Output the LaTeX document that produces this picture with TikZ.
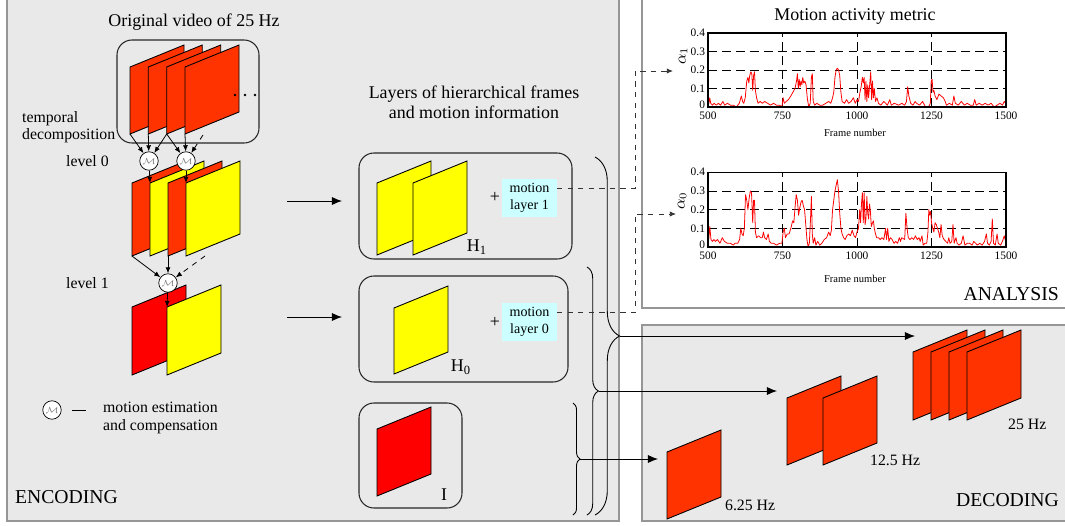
\documentclass[tikz,border=0pt]{standalone}
\usepackage{fontspec}
\setmainfont{Liberation Serif}
\usetikzlibrary{arrows.meta,decorations.pathreplacing}

\definecolor{frameorange}{RGB}{255,51,0}
\definecolor{frameyellow}{RGB}{255,255,0}
\definecolor{framered}{RGB}{255,0,0}
\definecolor{panelgray}{RGB}{233,233,233}
\definecolor{panelline}{RGB}{150,150,150}
\definecolor{motioncyan}{RGB}{204,255,255}

% one frame: #2,#3 bottom left corner, #4 fill, #1 height
\newcommand{\frm}[4][68]{%
  \filldraw[fill=#4, draw=black, line width=0.5pt] (#2,#3) -- ++(0,-#1) -- ++(54,-22) -- ++(0,#1) -- cycle;}

\tikzset{
  panel/.style={draw=panelline, fill=panelgray, line width=0.7pt},
  layerbox/.style={draw=black!85, rounded corners=8.5pt, line width=0.6pt},
  mc/.style={circle, draw=black, fill=white, minimum size=10.5pt, inner sep=0pt,
    font=\fontsize{5}{5}\selectfont\color{gray}},
  motionbox/.style={fill=motioncyan, minimum width=31pt, minimum height=21.5pt, inner sep=0pt,
    align=center, font=\fontsize{8}{9.5}\selectfont},
  lbl/.style={inner sep=1pt, align=center, font=\fontsize{10.2}{11.6}\selectfont},
  sml/.style={inner sep=1pt, align=left, font=\fontsize{9}{10}\selectfont},
  big/.style={inner sep=1pt, font=\fontsize{11.2}{13}\selectfont},
  tick/.style={inner sep=1.5pt, font=\fontsize{6.5}{7}\selectfont},
  flow/.style={-{Latex[length=5.7pt,width=4.6pt]}, line width=0.5pt},
  small/.style={-{Latex[length=3.5pt,width=2.8pt]}, line width=0.45pt},
  dlink/.style={dashed, gray!40!black, line width=0.5pt, -{Latex[length=3.5pt,width=3pt]}},
  grid/.style={dash pattern=on 5pt off 3pt, line width=0.4pt},
  curve/.style={red, line width=0.45pt, line join=round},
  axis/.style={line width=0.6pt}
}

\begin{document}
\begin{tikzpicture}[x=0.02cm, y=-0.02cm]
\useasboundingbox (0,0) rectangle (1065,525);
\clip (0,0) rectangle (1065,525);

%panels
\draw[panel] (7,-5) rectangle (619,521);
\draw[draw=panelline, fill=white, line width=0.7pt] (642,-5) rectangle (1070,308);
\draw[panel] (642,325) rectangle (1070,521);

\node[big, anchor=west] (enc) at (13,497) {ENCODING};
\node[big, anchor=east] (ana) at (1061,294) {ANALYSIS};
\node[big, anchor=east] (dec) at (1061,500) {DECODING};

%original video
\node[lbl] (orig) at (194,22) {Original video of 25 Hz};
\draw[layerbox] (117,40) rectangle (259,143);
\foreach \x in {130,148.3,166.7,185} {\frm[67]{\x}{134}{frameorange}}
\foreach \x in {235,245,255} {\fill (\x,95) circle (1.4);}

\node[sml, anchor=west] (tdec) at (20,127) {temporal\\decomposition};
\node[sml, anchor=west] (lv0) at (64,161) {level 0};
\node[sml, anchor=west] (lv1) at (64,283) {level 1};

%level 0
\foreach \x/\c in {132/frameorange,150/frameyellow,168/frameorange,186/frameyellow} {\frm[73]{\x}{256}{\c}}
%level 1
\frm{132}{375}{framered}
\frm{167}{375}{frameyellow}

%motion estimation
\node[mc] (m1) at (149,161) {$\mathcal{M}$};
\node[mc] (m2) at (186,161) {$\mathcal{M}$};
\node[mc] (m3) at (168,283) {$\mathcal{M}$};

\coordinate (o1) at (130,134);
\coordinate (o2) at (148.3,134);
\coordinate (o3) at (166.7,134);
\coordinate (o4) at (185,134);
\coordinate (o5) at (203,135);
\coordinate (y0a) at (150,183);
\coordinate (y0b) at (186,183);
\coordinate (r0a) at (132,256);
\coordinate (r0b) at (168,256);
\coordinate (r0c) at (205,256);
\coordinate (y1a) at (167,307);

\draw[small] (o1) -- (m1);
\draw[small] (o2) -- (m1);
\draw[small] (o3) -- (m1);
\draw[small] (o3) -- (m2);
\draw[small] (o4) -- (m2);
\draw[small, dashed] (o5) -- (m2);
\draw[small] (m1) -- (y0a);
\draw[small] (m2) -- (y0b);
\draw[small] (r0a) -- (m3);
\draw[small] (r0b) -- (m3);
\draw[small, dashed] (r0c) -- (m3);
\draw[small] (m3) -- (y1a);

%legend
\node[mc] (lgm) at (52,410) {$\mathcal{M}$};
\draw[line width=0.5pt] (72,410) -- (86,410);
\node[sml, anchor=west] (lgtxt) at (101,418) {motion estimation\\and compensation};

%layers
\node[lbl] (layers) at (474,102) {Layers of hierarchical frames\\and motion information};
\draw[layerbox] (359,153) rectangle (572,259);
\draw[layerbox] (359,276) rectangle (568,382);
\draw[layerbox] (359,403) rectangle (462,508);

\frm[72]{377}{255}{frameyellow}
\frm[72]{413}{255}{frameyellow}
\frm[66]{394}{374}{frameyellow}
\frm[67]{377}{496}{framered}

\node[lbl] (h1) at (477,247) {H\textsubscript{1}};
\node[lbl] (h0) at (461,367) {H\textsubscript{0}};
\node[lbl] (il) at (444,495) {I};

\node[lbl] (p1) at (495,197) {+};
\node[lbl] (p0) at (495,322) {+};
\node[motionbox] (mot1) at (529.5,198) {motion\\layer 1};
\node[motionbox] (mot0) at (529.5,322) {motion\\layer 0};

\coordinate (e1) at (287,201);
\coordinate (l1) at (342,201);
\coordinate (e0) at (287,317);
\coordinate (l0) at (342,317);
\draw[flow] (e1) -- (l1);
\draw[flow] (e0) -- (l0);

%braces
\draw[line width=0.5pt, decorate, decoration={brace, amplitude=14pt}] (595,157) -- (595,515);
\draw[line width=0.5pt, decorate, decoration={brace, amplitude=6.5pt}] (587,267) -- (587,515);
\draw[line width=0.5pt, decorate, decoration={brace, amplitude=4pt}] (573,403) -- (573,515);
\coordinate (b1) at (619.7,336);
\coordinate (b0) at (598.5,391);
\coordinate (bi) at (580,459);

%decoding
\foreach \x in {913,931,949,967} {\frm{\x}{420}{frameorange}}
\frm[67]{787}{465}{frameorange}
\frm[67]{823}{465}{frameorange}
\frm[67]{667}{519}{frameorange}
\node[sml, anchor=west] (f25) at (1006,424) {25 Hz};
\node[sml, anchor=west] (f12) at (868,460) {12.5 Hz};
\node[sml, anchor=west] (f6) at (723,505) {6.25 Hz};

\coordinate (d25) at (915,336);
\coordinate (d12) at (777,391);
\coordinate (d6) at (658,459);
\draw[flow] (b1) -- (d25);
\draw[flow] (b0) -- (d12);
\draw[flow] (bi) -- (d6);

%analysis
\node[lbl] (title) at (855,16) {Motion activity metric};
\node[rotate=90, inner sep=0pt, font=\fontsize{9}{9}\selectfont] (al1) at (683,56) {$\alpha_1$};
\node[rotate=90, inner sep=0pt, font=\fontsize{9}{9}\selectfont] (al0) at (682,201) {$\alpha_0$};
\node[inner sep=0pt, font=\fontsize{6}{7}\selectfont] (fn1) at (855,133) {Frame number};
\node[inner sep=0pt, font=\fontsize{6}{7}\selectfont] (fn0) at (855,279) {Frame number};

\begin{scope}[shift={(559,107)}, xscale=0.298, yscale=-185]
  \foreach \g in {0.1,0.2,0.3} {\draw[grid] (500,\g) -- (1500,\g);}
  \foreach \g in {750,1000,1250} {\draw[grid] (\g,0) -- (\g,0.4);}
  \draw[curve] plot coordinates {(500,0.01)(503,0.02)(506,0.05)(509,0.02)(515,0.01)(520,0.02)(528,0.01)(535,0.02)(542,0.01)(550,0.03)(556,0.01)(565,0.02)(575,0.01)(585,0.01)(595,0)(605,0.02)(612,0.06)(616,0.03)(620,0.02)(625,0.05)(630,0.14)(634,0.16)(637,0.13)(640,0.17)(644,0.19)(647,0.18)(650,0.09)(653,0.17)(656,0.19)(659,0.09)(663,0.05)(668,0.02)(675,0.03)(682,0.02)(690,0.03)(700,0.02)(710,0.01)(720,0.02)(730,0.01)(740,0.01)(748,0)(752,0.05)(756,0.02)(762,0.03)(770,0.04)(778,0.06)(785,0.08)(792,0.1)(797,0.14)(800,0.18)(803,0.1)(806,0.15)(809,0.11)(812,0.14)(815,0.12)(818,0.16)(821,0.13)(825,0.14)(829,0.12)(833,0.05)(838,0)(843,0.02)(847,0.16)(850,0.18)(853,0.03)(858,0.01)(865,0.02)(875,0.01)(885,0.01)(895,0.02)(905,0.03)(912,0.02)(918,0.05)(922,0.08)(926,0.16)(930,0.2)(934,0.21)(938,0.2)(942,0.17)(946,0.08)(950,0.03)(958,0.02)(965,0.04)(972,0.02)(980,0.03)(988,0.05)(994,0.02)(1000,0.04)(1005,0.03)(1010,0.08)(1014,0.11)(1018,0.16)(1021,0.13)(1024,0.16)(1027,0.04)(1030,0.14)(1033,0.03)(1036,0.12)(1039,0.05)(1042,0.11)(1046,0.19)(1049,0.04)(1052,0.14)(1055,0.05)(1058,0.1)(1062,0.03)(1067,0.05)(1072,0.02)(1080,0.01)(1090,0.03)(1096,0.02)(1102,0.01)(1110,0.04)(1115,0.01)(1125,0.02)(1140,0.01)(1150,0.02)(1160,0.01)(1166,0.03)(1170,0.11)(1174,0.06)(1180,0.02)(1188,0.01)(1195,0.03)(1200,0.02)(1210,0.01)(1220,0.03)(1230,0)(1240,0)(1246,0.02)(1249,0.14)(1252,0.15)(1255,0.08)(1258,0.09)(1262,0.06)(1268,0.04)(1275,0.07)(1282,0.06)(1290,0.05)(1296,0.03)(1300,0.01)(1310,0.02)(1320,0.01)(1325,0.06)(1330,0.02)(1340,0.01)(1350,0.03)(1360,0.01)(1370,0.02)(1380,0.01)(1390,0.01)(1395,0.04)(1400,0.01)(1410,0.02)(1420,0.01)(1430,0.02)(1440,0.01)(1450,0.02)(1460,0)(1470,0.01)(1480,0.02)(1488,0.01)(1494,0.03)(1500,0.02)};
  \draw[axis] (500,0) rectangle (1500,0.4);
  \foreach \t in {0.1,0.2,0.3,0.4} {\node[tick, anchor=east] at (500,\t) {\t};}
  \node[tick, anchor=east, yshift=1pt] at (500,0) {0};
  \foreach \t in {500,750,1000,1250,1500} {\node[tick, anchor=north, yshift=-1pt] at (\t,0) {\t};}
\end{scope}

\begin{scope}[shift={(559,247)}, xscale=0.298, yscale=-187]
  \foreach \g in {0.1,0.2,0.3} {\draw[grid] (500,\g) -- (1500,\g);}
  \foreach \g in {750,1000,1250} {\draw[grid] (\g,0) -- (\g,0.4);}
  \draw[curve] plot coordinates {(500,0.02)(503,0.05)(506,0.11)(510,0.04)(515,0.03)(520,0.04)(525,0.03)(532,0.04)(540,0.02)(548,0.05)(555,0.03)(565,0.02)(575,0.02)(585,0.01)(590,0.02)(600,0.02)(606,0.04)(610,0.1)(614,0.07)(618,0.06)(622,0.1)(626,0.28)(630,0.25)(634,0.2)(638,0.26)(642,0.3)(646,0.29)(650,0.13)(653,0.25)(656,0.25)(659,0.08)(663,0.05)(670,0.06)(676,0.05)(682,0.05)(686,0.08)(690,0.05)(696,0.04)(702,0.07)(706,0.03)(712,0.02)(720,0.02)(730,0.01)(740,0.02)(748,0.02)(752,0.08)(756,0.1)(760,0.05)(766,0.07)(772,0.07)(778,0.1)(784,0.14)(788,0.13)(792,0.21)(796,0.28)(800,0.25)(804,0.17)(808,0.21)(812,0.24)(816,0.25)(820,0.22)(824,0.2)(828,0.12)(832,0.04)(836,0)(840,0.02)(844,0.15)(847,0.27)(850,0.07)(853,0.02)(858,0.05)(862,0.01)(868,0.03)(875,0.01)(882,0.02)(890,0.04)(898,0.05)(905,0.08)(910,0.06)(914,0.09)(918,0.2)(922,0.25)(926,0.3)(930,0.33)(934,0.36)(938,0.3)(942,0.18)(946,0.1)(950,0.07)(955,0.05)(960,0.04)(966,0.06)(972,0.07)(978,0.06)(984,0.09)(990,0.06)(995,0.05)(1000,0.08)(1005,0.1)(1009,0.2)(1012,0.13)(1015,0.23)(1018,0.29)(1021,0.13)(1024,0.29)(1027,0.12)(1030,0.15)(1033,0.27)(1036,0.18)(1039,0.15)(1042,0.23)(1045,0.19)(1048,0.11)(1052,0.13)(1055,0.14)(1058,0.1)(1062,0.07)(1066,0.05)(1072,0.05)(1078,0.04)(1084,0.05)(1090,0.04)(1096,0.1)(1099,0.04)(1103,0.1)(1107,0.03)(1112,0.05)(1118,0.04)(1124,0.02)(1130,0.03)(1136,0.02)(1142,0.05)(1146,0.03)(1150,0.05)(1160,0.04)(1164,0.18)(1168,0.1)(1172,0.05)(1178,0.04)(1184,0.05)(1190,0.04)(1196,0.06)(1202,0.04)(1208,0.05)(1212,0.03)(1218,0.06)(1222,0.01)(1228,0.02)(1234,0.02)(1238,0.08)(1241,0.2)(1244,0.17)(1247,0.19)(1250,0.13)(1254,0.1)(1258,0.08)(1262,0.13)(1266,0.12)(1270,0.1)(1274,0.08)(1278,0.05)(1282,0.12)(1286,0.06)(1292,0.04)(1298,0.03)(1304,0.02)(1308,0.05)(1312,0.02)(1318,0.03)(1322,0.12)(1326,0.02)(1332,0.05)(1336,0.02)(1342,0.01)(1350,0.02)(1356,0.06)(1362,0.01)(1370,0.02)(1378,0.02)(1386,0.01)(1392,0.03)(1398,0.02)(1404,0.01)(1412,0.02)(1420,0.01)(1428,0.03)(1434,0.07)(1438,0.02)(1444,0.01)(1450,0.03)(1454,0.15)(1458,0.02)(1464,0.01)(1470,0.07)(1474,0.02)(1482,0.01)(1488,0.03)(1494,0.06)(1500,0.02)};
  \draw[axis] (500,0) rectangle (1500,0.4);
  \foreach \t in {0.1,0.2,0.3,0.4} {\node[tick, anchor=east] at (500,\t) {\t};}
  \node[tick, anchor=east, yshift=1pt] at (500,0) {0};
  \foreach \t in {500,750,1000,1250,1500} {\node[tick, anchor=north, yshift=-1pt] at (\t,0) {\t};}
\end{scope}

%motion information to the metric
\coordinate (turn) at (635,0);
\coordinate (a1in) at (673,71);
\coordinate (a0in) at (676,214);
\draw[dlink] ([yshift=5.7pt]mot1.east) -- ([yshift=5.7pt]mot1.east -| turn) |- (a1in);
\draw[dlink] ([yshift=5.2pt]mot0.east) -- ([yshift=5.2pt]mot0.east -| turn) |- (a0in);

\end{tikzpicture}
\end{document}
